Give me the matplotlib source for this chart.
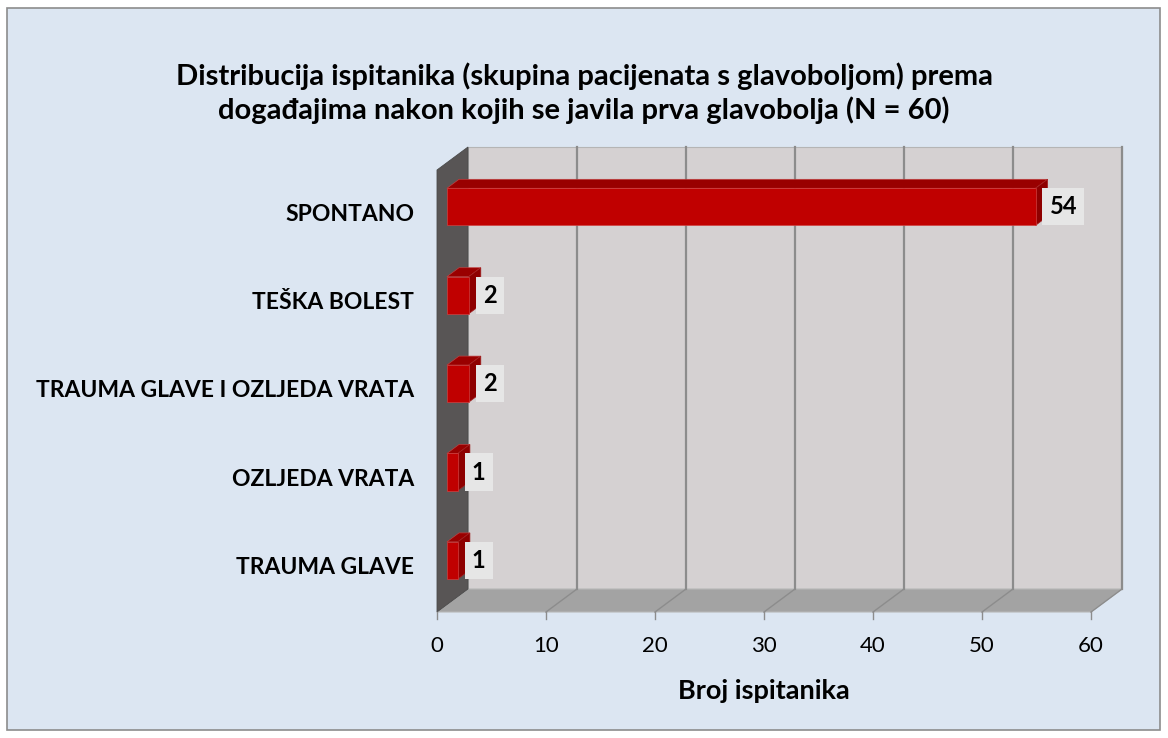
import matplotlib
matplotlib.use('Agg')
import matplotlib.pyplot as plt
from matplotlib.patches import Polygon, Rectangle

plt.rcParams['font.family'] = ['Lato', 'DejaVu Sans']

TITLE = ('Distribucija ispitanika (skupina pacijenata s glavoboljom) prema\n'
         'događajima nakon kojih se javila prva glavobolja (N = 60)')
X_LABEL = 'Broj ispitanika'

# bottom to top, as drawn
categories = ['TRAUMA GLAVE', 'OZLJEDA VRATA', 'TRAUMA GLAVE I OZLJEDA VRATA',
              'TEŠKA BOLEST', 'SPONTANO']
values = [1, 1, 2, 2, 54]
x_ticks = [0, 10, 20, 30, 40, 50, 60]

W, H = 1168, 738
fig = plt.figure(figsize=(W / 100, H / 100), dpi=100)
fig.patch.set_facecolor('white')

# chart area background with border
bg = Rectangle((7 / W, 8 / H), (W - 15) / W, (H - 16) / H,
               transform=fig.transFigure, facecolor='#DCE6F2',
               edgecolor='#8C8C8C', lw=1.2, zorder=-10)
fig.patches.append(bg)

# front plane of the 3d box in pixels
left, right, bottom, top = 437, 1091, 612, 170
ax = fig.add_axes([left / W, 1 - bottom / H, (right - left) / W,
                   (bottom - top) / H])
ax.set_xlim(0, 60)
ax.set_ylim(-0.5, len(categories) - 0.5)
ax.axis('off')
ax.set_zorder(5)

# depth of the box in data units
px_x = 60 / (right - left)
px_y = len(categories) / (bottom - top)
DX, DY = 31 * px_x, 23 * px_y


def shift(pts, d):
    return [(x + DX * d, y + DY * d) for x, y in pts]


y0, y1 = -0.5, len(categories) - 0.5
# back wall
ax.add_patch(Polygon(shift([(0, y0), (60, y0), (60, y1), (0, y1)], 1),
                     closed=True, facecolor='#D5D1D2', edgecolor='#B5B5B5',
                     lw=0.8, clip_on=False, zorder=1))
# floor
ax.add_patch(Polygon([(0, y0), (60, y0)] + shift([(60, y0), (0, y0)], 1),
                     closed=True, facecolor='#A3A3A3', edgecolor='#B8B8B8',
                     lw=0.8, clip_on=False, zorder=1))
# side wall
ax.add_patch(Polygon([(0, y0), (0, y1)] + shift([(0, y1), (0, y0)], 1),
                     closed=True, facecolor='#585555', edgecolor='#4A4A4A',
                     lw=0.6, clip_on=False, zorder=1))

# gridlines on back wall and floor
for t in x_ticks[1:]:
    (bx, by0), (_, by1) = shift([(t, y0), (t, y1)], 1)
    ax.plot([bx, bx], [by0, by1], color='#8C8C8C', lw=1.6, zorder=2,
            clip_on=False)
    ax.plot([t, bx], [y0, by0], color='#8C8C8C', lw=1.0, zorder=2,
            clip_on=False)

# ticks and labels
for t in x_ticks:
    ax.plot([t, t], [y0, y0 - 7 * px_y], color='#8C8C8C', lw=1, zorder=2,
            clip_on=False)
    ax.text(t, y0 - 34 * px_y, str(t), ha='center', va='center',
            fontsize=16, color='black')

ax.text(30, y0 - 79 * px_y, X_LABEL, ha='center', va='center',
        fontsize=19.5, fontweight='bold')

for i, c in enumerate(categories):
    ax.text(-23 * px_x, i, c, ha='right', va='center', fontsize=16.5,
            fontweight='bold')

# bars
bh = 0.42
d0, d1 = 0.32, 0.71
for i, v in enumerate(values):
    lo, hi = i - bh / 2, i + bh / 2
    front = shift([(0, lo), (v, lo), (v, hi), (0, hi)], d0)
    top_face = shift([(0, hi), (v, hi)], d0) + shift([(v, hi), (0, hi)], d1)
    side = shift([(v, lo), (v, hi)], d0) + shift([(v, hi), (v, lo)], d1)
    ax.add_patch(Polygon(top_face, closed=True, facecolor='#990000',
                         edgecolor='#C04040', lw=0.5, zorder=4,
                         clip_on=False))
    ax.add_patch(Polygon(side, closed=True, facecolor='#8E0000',
                         edgecolor='#A02020', lw=0.5, zorder=4,
                         clip_on=False))
    ax.add_patch(Polygon(front, closed=True, facecolor='#C00000',
                         edgecolor='#D04040', lw=0.5, zorder=5,
                         clip_on=False))
    fx, fy = front[1][0], (front[1][1] + front[2][1]) / 2
    ax.text(fx + 14 * px_x, fy, str(v), ha='left', va='center',
            fontsize=17, fontweight='bold', zorder=6,
            bbox=dict(boxstyle='square,pad=0.3', facecolor='#E6E6E6',
                      edgecolor='none'))

fig.text(0.5, 1 - 93 / H, TITLE, ha='center', va='center', fontsize=21,
         fontweight='bold', linespacing=1.3)

fig.savefig('out.png', dpi=100)
